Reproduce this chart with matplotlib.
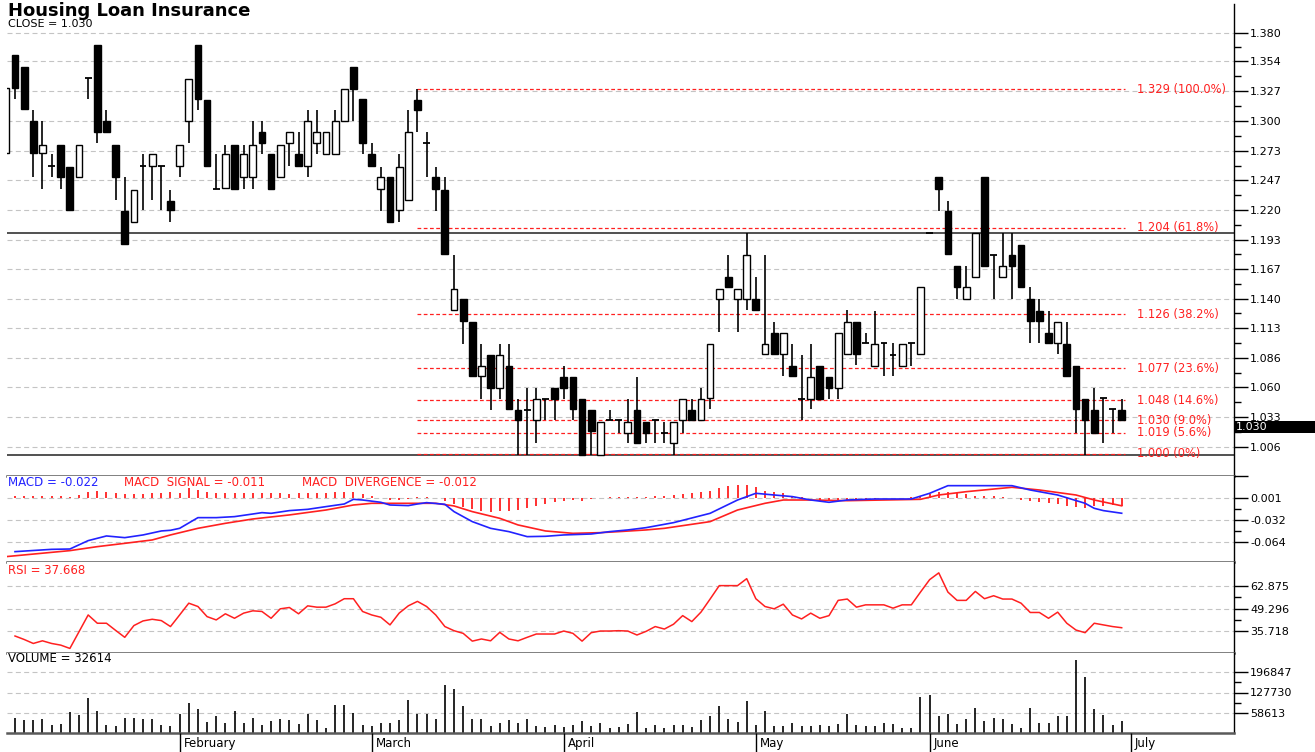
import matplotlib
matplotlib.use('Agg')
import matplotlib.pyplot as plt
from matplotlib.patches import Rectangle

plt.rcParams['font.family'] = ['DejaVu Sans']

# ---------------- data ----------------
opens = [1.271,1.360,1.349,1.300,1.271,1.260,1.279,1.259,1.250,1.339,
 1.369,1.300,1.279,1.219,1.209,1.260,1.260,1.260,1.228,1.260,
 1.300,1.369,1.319,1.239,1.240,1.279,1.250,1.250,1.290,1.270,
 1.250,1.280,1.270,1.260,1.280,1.270,1.270,1.300,1.349,1.320,
 1.270,1.239,1.250,1.220,1.229,1.319,1.280,1.250,1.238,1.130,
 1.140,1.119,1.070,1.089,1.059,1.079,1.039,1.039,1.030,1.049,
 1.059,1.069,1.069,1.049,1.039,0.999,1.030,1.030,1.019,1.039,
 1.029,1.030,1.019,1.010,1.030,1.039,1.030,1.050,1.140,1.159,
 1.140,1.140,1.140,1.090,1.109,1.090,1.079,1.049,1.049,1.079,
 1.069,1.059,1.090,1.119,1.100,1.079,1.100,1.089,1.079,1.100,
 1.090,1.199,1.250,1.219,1.169,1.140,1.159,1.250,1.179,1.159,
 1.179,1.188,1.140,1.129,1.109,1.100,1.099,1.079,1.049,1.039,
 1.050,1.040,1.039]
highs = [1.330,1.360,1.349,1.310,1.300,1.270,1.279,1.259,1.279,1.339,
 1.369,1.310,1.279,1.250,1.238,1.270,1.270,1.260,1.238,1.279,
 1.338,1.369,1.319,1.270,1.279,1.279,1.279,1.300,1.300,1.270,
 1.279,1.290,1.290,1.310,1.310,1.290,1.310,1.329,1.349,1.320,
 1.280,1.259,1.250,1.270,1.310,1.329,1.290,1.259,1.250,1.179,
 1.140,1.119,1.099,1.089,1.099,1.099,1.049,1.059,1.059,1.049,
 1.059,1.079,1.069,1.049,1.039,1.029,1.039,1.030,1.049,1.069,
 1.029,1.030,1.029,1.029,1.049,1.049,1.059,1.099,1.149,1.179,
 1.149,1.199,1.159,1.179,1.119,1.109,1.099,1.089,1.099,1.079,
 1.069,1.109,1.130,1.119,1.109,1.129,1.100,1.100,1.099,1.100,
 1.150,1.199,1.250,1.228,1.169,1.169,1.199,1.250,1.179,1.199,
 1.199,1.188,1.150,1.140,1.129,1.119,1.119,1.079,1.049,1.059,
 1.050,1.040,1.049]
lows = [1.271,1.320,1.311,1.250,1.239,1.250,1.239,1.220,1.250,1.320,
 1.280,1.290,1.229,1.189,1.209,1.220,1.229,1.220,1.209,1.250,
 1.280,1.310,1.260,1.239,1.240,1.239,1.239,1.239,1.270,1.239,
 1.250,1.260,1.260,1.250,1.270,1.270,1.270,1.300,1.300,1.270,
 1.260,1.219,1.209,1.209,1.229,1.290,1.250,1.219,1.180,1.130,
 1.099,1.070,1.049,1.039,1.049,1.040,0.999,0.999,1.010,1.030,
 1.030,1.049,1.030,0.999,0.999,0.999,1.030,1.019,1.010,1.010,
 1.010,1.010,1.010,0.999,1.019,1.030,1.030,1.040,1.110,1.150,
 1.110,1.130,1.130,1.090,1.090,1.070,1.070,1.030,1.040,1.049,
 1.049,1.049,1.090,1.080,1.100,1.079,1.070,1.070,1.079,1.079,
 1.090,1.199,1.219,1.180,1.140,1.140,1.159,1.169,1.140,1.159,
 1.140,1.150,1.100,1.100,1.100,1.090,1.070,1.019,0.999,1.019,
 1.010,1.019,1.030]
closes = [1.330,1.330,1.311,1.271,1.279,1.260,1.250,1.220,1.279,1.339,
 1.290,1.290,1.250,1.189,1.238,1.260,1.270,1.260,1.220,1.279,
 1.338,1.320,1.260,1.239,1.270,1.239,1.270,1.279,1.280,1.239,
 1.279,1.290,1.260,1.300,1.290,1.290,1.300,1.329,1.329,1.280,
 1.260,1.250,1.209,1.259,1.290,1.310,1.280,1.239,1.180,1.149,
 1.120,1.070,1.079,1.059,1.089,1.040,1.030,1.039,1.049,1.049,
 1.049,1.059,1.040,0.999,1.020,1.029,1.030,1.030,1.029,1.010,
 1.019,1.030,1.019,1.029,1.049,1.030,1.049,1.099,1.149,1.150,
 1.149,1.179,1.130,1.099,1.090,1.109,1.070,1.049,1.069,1.049,
 1.059,1.109,1.119,1.090,1.100,1.099,1.100,1.089,1.099,1.100,
 1.150,1.199,1.239,1.180,1.150,1.150,1.199,1.169,1.179,1.169,
 1.169,1.150,1.120,1.120,1.100,1.119,1.070,1.040,1.030,1.019,
 1.050,1.040,1.030]
volumes = [58400,42700,34800,34800,39300,19100,22500,60700,52800,109000,
 66300,19100,13500,40500,40500,39300,37100,19100,13500,56200,
 91000,71900,28100,49500,25900,64100,25900,42700,16900,31500,
 37100,34800,22500,56200,33700,7900,85400,85400,59600,19100,
 13500,23600,23600,33700,102300,56200,56200,38200,154000,138300,
 83200,39300,38200,13500,25900,34800,25900,37100,13500,11200,
 19100,11200,16900,31500,13500,25900,7900,11200,22500,61800,
 7900,16900,7900,16900,16900,10100,34800,47200,83200,38200,
 29200,100000,16900,65200,13500,13500,25900,13500,13500,16900,
 13500,22500,56200,16900,13500,13500,25900,20200,7900,7900,
 112400,120300,47200,56200,22500,38200,76400,31500,42700,37100,
 22500,7900,76400,25900,25900,49500,49500,237200,181000,71900,
 52800,16900,32614]
rsi_values = [32.7,30.6,28.2,29.8,28.2,27.2,25.2,35.3,45.4,
 40.4,40.4,36.1,31.9,39.0,41.8,42.8,42.0,38.4,45.4,
 52.5,50.5,44.4,42.4,46.1,43.4,46.5,47.9,47.5,43.4,
 49.1,49.9,46.1,50.9,50.1,50.1,52.1,55.2,55.2,47.5,
 45.4,44.0,39.4,46.5,50.9,53.6,50.5,45.4,38.4,35.9,
 34.3,29.6,30.9,29.8,34.9,30.9,29.8,31.9,33.9,33.9,
 33.9,35.7,34.3,29.6,34.7,35.7,35.7,35.9,35.7,33.3,
 35.5,38.4,36.9,39.8,45.0,41.4,47.1,55.0,63.1,63.1,
 63.1,67.3,55.2,50.5,49.1,51.9,45.4,43.0,46.5,43.4,
 45.0,54.2,55.0,50.1,51.5,51.5,51.5,49.5,51.5,51.5,
 59.2,66.7,70.8,59.2,54.2,54.2,59.6,55.2,57.0,55.0,
 55.0,52.5,46.9,46.9,43.4,47.1,40.4,36.3,34.7,40.4,
 39.4,38.4,37.7]
rsi_start = 1
macd_bars = [1,5,7,9,11,13,15,17,18,19,21,23,25,27,28,29,31,33,35,37,38,39,41,42,44,45,46,48,
             49,51,53,55,57,59,61,64,66,68,70,73,77,80,82,84,86,88,90,92,95,99,101,103,105,110,
             112,115,118,119,120,122]
macd_vals = [-0.0788,-0.0754,-0.0749,-0.0625,-0.0556,-0.0581,-0.0541,-0.0482,-0.0472,-0.0443,
             -0.0285,-0.0285,-0.0270,-0.0231,-0.0211,-0.0221,-0.0181,-0.0162,-0.0122,-0.0083,
             -0.0014,-0.0024,-0.0058,-0.0098,-0.0107,-0.0083,-0.0063,-0.0088,
             -0.0196,-0.0344,-0.0443,-0.0492,-0.0566,-0.0561,-0.0541,-0.0527,-0.0492,-0.0467,-0.0433,
             -0.0359,-0.0221,-0.0024,0.0075,0.0050,0.0026,-0.0024,-0.0058,-0.0024,-0.0009,-0.0009,
             0.0075,0.0188,0.0188,0.0188,0.0124,0.0050,-0.0073,-0.0147,-0.0181,-0.0220]
signal_bars = [0,7,10,13,16,18,21,24,27,31,35,38,40,43,47,49,51,54,56,59,62,65,67,70,72,77,80,
               83,85,88,92,96,100,102,105,110,113,117,119,122]
signal_vals = [-0.0862,-0.0773,-0.0714,-0.0665,-0.0615,-0.0541,-0.0443,-0.0369,-0.0305,-0.0245,
               -0.0172,-0.0098,-0.0073,-0.0073,-0.0073,-0.0112,-0.0196,-0.0295,-0.0393,-0.0482,
               -0.0517,-0.0507,-0.0492,-0.0467,-0.0443,-0.0344,-0.0172,-0.0073,-0.0024,-0.0024,
               -0.0034,-0.0024,-0.0014,0.0050,0.0099,0.0164,0.0124,0.0050,-0.0024,-0.0110]
divergence = [0.0039,0.0039,0.0039,0.0039,0.0039,0.0039,0.0039,0.0025,0.0049,0.0089,
 0.0113,0.0099,0.0079,0.0064,0.0064,0.0064,0.0074,0.0079,0.0089,0.0079,
 0.0148,0.0123,0.0099,0.0079,0.0074,0.0074,0.0074,0.0074,0.0074,0.0074,
 0.0074,0.0064,0.0074,0.0079,0.0079,0.0079,0.0089,0.0099,0.0089,0.0064,
 0.0030,0.0,-0.0020,-0.0020,-0.0010,0.0015,0.0015,0.0,-0.0035,-0.0084,
 -0.0133,-0.0158,-0.0182,-0.0197,-0.0192,-0.0182,-0.0168,-0.0148,-0.0118,-0.0084,
 -0.0059,-0.0035,-0.0020,-0.0035,-0.0010,0.0,0.0015,0.0015,0.0015,0.0015,
 0.0015,0.0030,0.0039,0.0049,0.0064,0.0079,0.0089,0.0113,0.0153,0.0187,
 0.0197,0.0197,0.0163,0.0113,0.0089,0.0074,0.0039,0.0015,0.0,-0.0020,
 -0.0035,-0.0020,-0.0020,-0.0010,-0.0010,-0.0010,0.0,0.0,0.0,0.0015,
 0.0030,0.0064,0.0099,0.0099,0.0079,0.0064,0.0039,0.0030,0.0030,0.0015,
 0.0,-0.0020,-0.0035,-0.0059,-0.0069,-0.0084,-0.0108,-0.0133,-0.0148,-0.0118,
 -0.0108,-0.0099,-0.0120]

month_labels = ['February', 'March', 'April', 'May', 'June', 'July']
month_bars = [19, 40, 61, 82, 101, 123]
fib_start_bar = 45
fib_end_bar = 122.4
fib_levels = [1.329, 1.204, 1.126, 1.077, 1.048, 1.030, 1.019, 1.000]
fib_labels = ['1.329 (100.0%)', '1.204 (61.8%)', '1.126 (38.2%)', '1.077 (23.6%)',
              '1.048 (14.6%)', '1.030 (9.0%)', '1.019 (5.6%)', '1.000 (0%)']
support_levels = [1.199, 0.999]
price_ticks = [1.006, 1.033, 1.060, 1.086, 1.113, 1.140, 1.167, 1.193, 1.220,
               1.247, 1.273, 1.300, 1.327, 1.354, 1.380]
macd_ticks = [0.033, 0.001, -0.032, -0.064]
macd_ticklabels = ['', '0.001', '-0.032', '-0.064']
rsi_ticks = [62.875, 49.296, 35.718]
vol_ticks = [196847, 127730, 58613]

# ---------------- layout ----------------
W, H = 1315, 752
fig = plt.figure(figsize=(W / 100, H / 100), dpi=100)
fig.patch.set_facecolor('white')
XL, XR = 7, 1234
xlim = (0.125, 134.28)
TICK_FS = 8
LEG_FS = 8.5

def add(y0, y1):
    return fig.add_axes([XL / W, 1 - y1 / H, (XR - XL) / W, (y1 - y0) / H])

def ftext(x, y, s, **kw):
    kw.setdefault('va', 'center')
    kw.setdefault('ha', 'left')
    fig.text(x / W, 1 - y / H, s, **kw)

ax_p = add(4, 476)
ax_m = add(476, 562)
ax_r = add(562, 653)
ax_v = add(653, 733)
ax_x = add(733, 752)

GRID = dict(color='#c4c4c4', linestyle=(0, (4.5, 3)), linewidth=0.8)
RED = '#ff2020'
BLUE = '#2222ff'

for ax in (ax_p, ax_m, ax_r, ax_v):
    ax.set_xlim(*xlim)
    ax.set_xticks([])
    ax.yaxis.tick_right()
    ax.spines['left'].set_visible(False)
    ax.spines['top'].set_visible(False)
    ax.spines['right'].set_color('black')
    ax.spines['right'].set_linewidth(1.0)
    ax.spines['bottom'].set_color('#5a5a5a')
    ax.spines['bottom'].set_linewidth(1.8)
    ax.tick_params(axis='y', which='major', length=10, width=1, labelsize=TICK_FS, pad=1.5, direction='out')
    ax.tick_params(axis='y', which='minor', length=5, width=1, direction='out')
    ax.set_facecolor('white')

# ---------------- price panel ----------------
px_per = 1108.0
ax_p.set_ylim(1.006 - (476 - 447) / px_per, 1.006 + (447 - 4) / px_per)
ax_p.set_yticks(price_ticks)
ax_p.set_yticklabels(['%.3f' % t for t in price_ticks])
ax_p.set_yticks([(a + b) / 2 for a, b in zip(price_ticks[:-1], price_ticks[1:])], minor=True)
for t in price_ticks:
    ax_p.axhline(t, zorder=0, **GRID)

for lvl in support_levels:
    ax_p.axhline(lvl, color='#222222', linewidth=1.1, zorder=1)

ax_p.hlines(fib_levels, fib_start_bar, fib_end_bar, colors=RED, linestyles=(0, (3, 2)),
            linewidth=0.9, zorder=1)
for lvl, lab in zip(fib_levels, fib_labels):
    ax_p.text(123.7, lvl, lab, color=RED, fontsize=8.3, va='center', ha='left', zorder=5)

bw = 0.74
for i, (o, h, l, c) in enumerate(zip(opens, highs, lows, closes)):
    ax_p.vlines(i, l, h, color='black', linewidth=1.2, zorder=2)
    if abs(c - o) < 1e-9:
        ax_p.hlines(c, i - bw / 2, i + bw / 2, color='black', linewidth=1.3, zorder=3)
    else:
        fc = 'black' if c < o else 'white'
        ax_p.add_patch(Rectangle((i - bw / 2, min(o, c)), bw, abs(c - o),
                                 facecolor=fc, edgecolor='black', linewidth=1.0, zorder=3))

# ---------------- MACD panel ----------------
ax_m.set_ylim(0.001 - (562 - 497.7) / 676, 0.001 + (497.7 - 476) / 676)
ax_m.set_yticks(macd_ticks)
ax_m.set_yticklabels(macd_ticklabels)
ax_m.set_yticks([-0.0155, -0.048], minor=True)
for t in macd_ticks[1:]:
    ax_m.axhline(t, zorder=0, **GRID)
ax_m.vlines(range(len(divergence)), 0, divergence, color=RED, linewidth=1.3, zorder=2)
ax_m.plot(signal_bars, signal_vals, color=RED, linewidth=1.2, zorder=3)
ax_m.plot(macd_bars, macd_vals, color=BLUE, linewidth=1.2, zorder=4)

# ---------------- RSI panel ----------------
rsi_per = 13.578 / 22.5
ax_r.set_ylim(35.718 - (653 - 631) * rsi_per, 62.875 + (586 - 562) * rsi_per)
ax_r.set_yticks(rsi_ticks)
ax_r.set_yticklabels(['%.3f' % t for t in rsi_ticks])
ax_r.set_yticks([56.09, 42.51], minor=True)
for t in rsi_ticks:
    ax_r.axhline(t, zorder=0, **GRID)
ax_r.plot(range(rsi_start, rsi_start + len(rsi_values)), rsi_values, color=RED, linewidth=1.1)

# ---------------- Volume panel ----------------
vol_per = 69117 / 20.5
vol_bottom = 58613 - (733 - 713) * vol_per
ax_v.set_ylim(vol_bottom, 196847 + (672 - 653) * vol_per)
ax_v.set_yticks(vol_ticks)
ax_v.set_yticklabels(['%d' % t for t in vol_ticks])
ax_v.set_yticks([162288, 93171], minor=True)
for t in vol_ticks:
    ax_v.axhline(t, zorder=0, **GRID)
ax_v.vlines(range(len(volumes)), vol_bottom, volumes, color='black', linewidth=1.2)

# ---------------- month strip ----------------
ax_x.set_xlim(*xlim)
ax_x.set_ylim(0, 1)
ax_x.axis('off')
ax_x.vlines(month_bars, 0, 1, color='black', linewidth=1.0)
for b, lab in zip(month_bars, month_labels):
    ax_x.text(b + 0.45, 0.45, lab, fontsize=8.5, va='center', ha='left')

# ---------------- texts ----------------
ftext(8, 11.5, 'Housing Loan Insurance', fontsize=13, fontweight='bold')
ftext(8, 24, 'CLOSE = 1.030', fontsize=8)
ftext(8, 483, 'MACD = -0.022', fontsize=LEG_FS, color=BLUE)
ftext(124, 483, 'MACD  SIGNAL = -0.011', fontsize=LEG_FS, color=RED)
ftext(302, 483, 'MACD  DIVERGENCE = -0.012', fontsize=LEG_FS, color=RED)
ftext(8, 570, 'RSI = 37.668', fontsize=LEG_FS, color=RED)
ftext(8, 659, 'VOLUME = 32614', fontsize=LEG_FS, color='black')

# current price box
fig.add_artist(Rectangle((XR / W, 1 - 433 / H), (W - XR) / W, 12 / H,
                         transform=fig.transFigure, facecolor='black', edgecolor='none'))
ftext(1236, 427, '1.030', fontsize=TICK_FS, color='white')

fig.savefig('out.png', dpi=100)
